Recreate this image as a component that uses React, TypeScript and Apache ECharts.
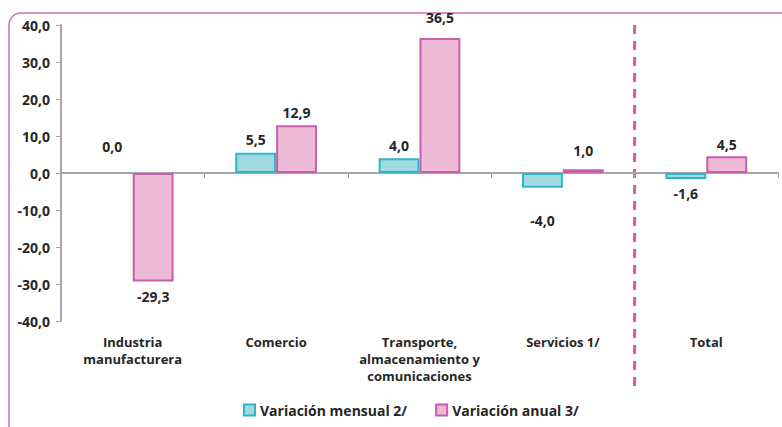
import React, { useEffect, useRef } from "react";
import * as echarts from "echarts";

const categories = [
  "Industria\nmanufacturera",
  "Comercio",
  "Transporte,\nalmacenamiento y\ncomunicaciones",
  "Servicios 1/",
  "Total",
];
const mensual = [0.0, 5.5, 4.0, -4.0, -1.6];
const anual = [-29.3, 12.9, 36.5, 1.0, 4.5];
const mensualLabelDistance = [20, 6, 6, 26, 8];
const anualLabelDistance = [8, 6, 13, 12, 5];
const seriesNames = ["Variación mensual 2/", "Variación anual 3/"];

const fmt = (v: number) => v.toFixed(1).replace(".", ",");
const FONT = "Open Sans";
const TEXT = "#262626";
const FS = 14;

export default function App() {
  const ref = useRef<HTMLDivElement>(null);
  useEffect(() => {
    const chart = echarts.init(ref.current!, null, { renderer: "svg" });
    const mkData = (vals: number[], dists: number[]) =>
      vals.map((v, i) => ({
        value: v,
        label: { position: v < 0 ? "bottom" : "top", distance: dists[i] },
        itemStyle: v === 0 ? { borderWidth: 0 } : undefined,
      }));
    const labelCommon = {
      show: true,
      formatter: (p: any) => fmt(p.value),
      fontFamily: FONT,
      fontWeight: "bold",
      fontSize: FS,
      color: TEXT,
    };
    chart.setOption({
      animation: false,
      grid: { left: 61, right: 4, top: 25, bottom: 106, containLabel: false },
      legend: {
        bottom: 5,
        left: 238,
        itemWidth: 11,
        itemHeight: 11,
        itemGap: 28,
        itemStyle: { borderWidth: 2 },
        icon: "rect",
        textStyle: { fontFamily: FONT, fontWeight: "bold", fontSize: FS, color: TEXT },
        data: seriesNames,
      },
      xAxis: [
        {
          type: "category",
          data: categories,
          axisLine: { onZero: true, lineStyle: { color: "#a6a6a6", width: 2 } },
          axisTick: { show: true, length: 5, lineStyle: { color: "#a6a6a6", width: 1 } },
          axisLabel: { show: false },
          splitLine: { show: false },
        },
        {
          type: "category",
          data: categories,
          position: "bottom",
          axisLine: { show: false, onZero: false },
          axisTick: { show: false },
          axisLabel: {
            margin: 12,
            fontFamily: FONT,
            fontWeight: "bold",
            fontSize: 13,
            color: TEXT,
            lineHeight: 17,
            interval: 0,
          },
        },
      ],
      yAxis: {
        type: "value",
        min: -40,
        max: 40,
        interval: 10,
        axisLine: { show: true, lineStyle: { color: "#a6a6a6", width: 2 } },
        axisTick: { show: true, length: 5, lineStyle: { color: "#a6a6a6" } },
        splitLine: { show: false },
        axisLabel: {
          formatter: (v: number) => fmt(v),
          margin: 11,
          fontFamily: FONT,
          fontWeight: "bold",
          fontSize: FS,
          color: TEXT,
        },
      },
      series: [
        {
          name: seriesNames[0],
          type: "bar",
          data: mkData(mensual, mensualLabelDistance),
          barGap: "0%",
          barCategoryGap: "43%",
          itemStyle: { color: "#a0d9e2", borderColor: "#2fb7c7", borderWidth: 2 },
          label: labelCommon,
        },
        {
          name: seriesNames[1],
          type: "bar",
          data: mkData(anual, anualLabelDistance),
          barGap: "0%",
          barCategoryGap: "43%",
          itemStyle: { color: "#ecb9d6", borderColor: "#c85fac", borderWidth: 2 },
          label: labelCommon,
        },
      ],
    });
    const x3 = chart.convertToPixel({ xAxisIndex: 0 }, 3) as number;
    const x4 = chart.convertToPixel({ xAxisIndex: 0 }, 4) as number;
    const xd = (x3 + x4) / 2;
    chart.setOption({
      graphic: [
        {
          type: "rect",
          shape: { x: 9, y: 13, width: 800, height: 440, r: 12 },
          style: { fill: "none", stroke: "#d06eb4", lineWidth: 1.5 },
          silent: true,
        },
        {
          type: "line",
          shape: { x1: xd, y1: 25, x2: xd, y2: 391 },
          style: { stroke: "#cc5fa8", lineWidth: 3, lineDash: [9, 7] },
          silent: true,
        },
      ],
    });
    return () => chart.dispose();
  }, []);
  return (
    <div
      ref={ref}
      style={{ position: "fixed", left: 0, top: 0, width: 782, height: 427, background: "#fff" }}
    />
  );
}
